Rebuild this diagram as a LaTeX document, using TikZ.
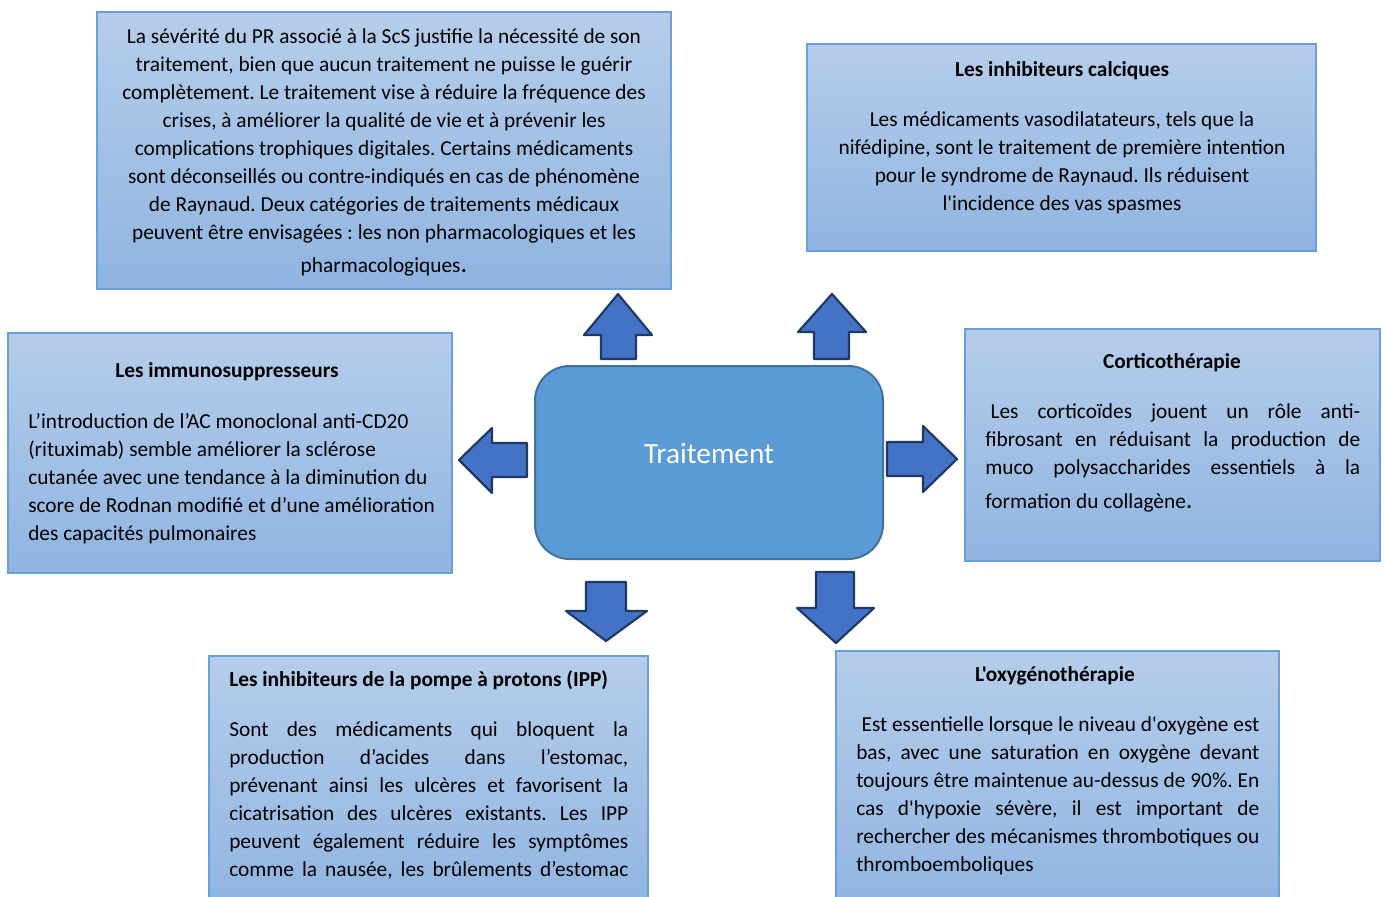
\documentclass[tikz,border=0pt]{standalone}
\usepackage{fontspec}
\setmainfont{Carlito}[Ligatures=TeXOff]
\frenchspacing
\definecolor{boxtop}{HTML}{B5CDEA}
\definecolor{boxbot}{HTML}{8FB4E1}
\definecolor{boxline}{HTML}{6A9FD9}
\definecolor{midfill}{HTML}{5B9BD5}
\definecolor{midline}{HTML}{41719C}
\definecolor{arrfill}{HTML}{4472C4}
\definecolor{arrline}{HTML}{1F3864}
\newcommand{\rs}{\spaceskip=0pt\xspaceskip=0pt\relax}
\newcommand{\jl}[1]{\makebox[\hsize][s]{#1}}
\tikzset{
  infobox/.style={draw=boxline, line width=1pt, top color=boxtop, bottom color=boxbot, inner sep=0pt},
  central/.style={draw=midline, line width=1.5pt, fill=midfill, inner sep=0pt, rounded corners=26pt},
  blockarrow/.style={draw=arrline, fill=arrfill, line width=1.6pt, line join=round},
  bodytext/.style={font=\fontsize{16}{21}\selectfont\frenchspacing, inner sep=0pt, text=black},
  titletext/.style={font=\fontsize{16}{21}\selectfont\bfseries, inner sep=0pt, text=black},
}
\begin{document}
\begin{tikzpicture}[x=0.75pt,y=-0.75pt]
\useasboundingbox (0,0) rectangle (1385,896);
\clip (0,0) rectangle (1385,896);

% boxes
\node[infobox, minimum width=430.5pt, minimum height=207.75pt] (b1) at (384,150.5) {};
\node[infobox, minimum width=381.75pt, minimum height=155.25pt] (b2) at (1061.5,147.5) {};
\node[infobox, minimum width=333pt, minimum height=180pt] (b3) at (230,453) {};
\node[infobox, minimum width=311.25pt, minimum height=174pt] (b4) at (1172.5,445) {};
\node[infobox, minimum width=329.25pt, minimum height=190.5pt] (b5) at (428.5,783) {};
\node[infobox, minimum width=332.25pt, minimum height=194.25pt] (b6) at (1057.5,780.5) {};

% central node
\node[central, minimum width=261pt, minimum height=144.75pt] (c) at (709,462.5) {};
\node[font=\fontsize{22}{26}\selectfont, text=white, inner sep=0pt] (ct) at (709,454) {Traitement};

% block arrows
\draw[blockarrow] (601,359) -- (601,335) -- (584,335) -- (618,294) -- (652,335) -- (636,335) -- (636,359) -- cycle;
\draw[blockarrow] (814,359) -- (814,332) -- (798,332) -- (832,294) -- (866,332) -- (849,332) -- (849,359) -- cycle;
\draw[blockarrow] (527,443) -- (492,443) -- (492,428) -- (459,460) -- (492,493) -- (492,477) -- (527,477) -- cycle;
\draw[blockarrow] (887,442) -- (923,442) -- (923,426) -- (957,459) -- (923,492) -- (923,476) -- (887,476) -- cycle;
\draw[blockarrow] (586,582) -- (626,582) -- (626,611) -- (647,611) -- (606,641) -- (566,611) -- (586,611) -- cycle;
\draw[blockarrow] (816,572) -- (854,572) -- (854,608) -- (874,608) -- (836,643) -- (797,608) -- (816,608) -- cycle;

% box 1 text
\node[bodytext, anchor=base, text width=420pt] (t1) at (384,43)
{\centering\rs
La sévérité du PR associé à la ScS justifie la nécessité de son\\
traitement, bien que aucun traitement ne puisse le guérir\\
complètement. Le traitement vise à réduire la fréquence des\\
crises, à améliorer la qualité de vie et à prévenir les\\
complications trophiques digitales. Certains médicaments\\
sont déconseillés ou contre-indiqués en cas de phénomène\\
de Raynaud. Deux catégories de traitements médicaux\\
peuvent être envisagées : les non pharmacologiques et les\\[4pt]
pharmacologiques{\fontsize{20}{21}\selectfont .}\par};

% box 2 text
\node[titletext, anchor=base] (h2) at (1062,76) {Les inhibiteurs calciques};
\node[bodytext, anchor=base, text width=370pt] (t2) at (1062,126)
{\centering\rs
Les médicaments vasodilatateurs, tels que la\\
nifédipine, sont le traitement de première intention\\
pour le syndrome de Raynaud. Ils réduisent\\
l'incidence des vas spasmes\par};

% box 3 text
\node[titletext, anchor=base] (h3) at (227,377) {Les immunosuppresseurs};
\node[bodytext, anchor=base west, text width=340pt] (t3) at (28,428)
{\raggedright\rs
L’introduction de l’AC monoclonal anti-CD20\\
(rituximab) semble améliorer la sclérose\\
cutanée avec une tendance à la diminution du\\
score de Rodnan modifié et d’une amélioration\\
des capacités pulmonaires\par};

% box 4 text
\node[titletext, anchor=base] (h4) at (1172,368) {Corticothérapie};
\node[bodytext, anchor=base west, text width=281.25pt] (t4) at (985,418)
{\raggedright\rs
\jl{\hspace*{4pt}Les corticoïdes jouent un rôle anti-}\\
\jl{fibrosant en réduisant la production de}\\
\jl{muco polysaccharides essentiels à la}\\[5pt]
formation du collagène{\fontsize{20}{21}\selectfont .}\par};

% box 5 text
\node[titletext, anchor=base west] (h5) at (229,686) {Les inhibiteurs de la pompe à protons (IPP)};
\node[bodytext, anchor=base west, text width=299.25pt] (t5) at (229,736)
{\raggedright\rs
\jl{Sont des médicaments qui bloquent la}\\
\jl{production d’acides dans l’estomac,}\\
\jl{prévenant ainsi les ulcères et favorisent la}\\
\jl{cicatrisation des ulcères existants. Les IPP}\\
\jl{peuvent également réduire les symptômes}\\
\jl{comme la nausée, les brûlements d’estomac}\par};

% box 6 text
\node[titletext, anchor=base] (h6) at (1055,681) {L'oxygénothérapie};
\node[bodytext, anchor=base west, text width=302.25pt] (t6) at (856,731)
{\raggedright\rs
\jl{\hspace*{4pt}Est essentielle lorsque le niveau d'oxygène est}\\
\jl{bas, avec une saturation en oxygène devant}\\
\jl{toujours être maintenue au-dessus de 90\%. En}\\
\jl{cas d'hypoxie sévère, il est important de}\\
\jl{rechercher des mécanismes thrombotiques ou}\\
thromboemboliques\par};
\end{tikzpicture}
\end{document}
